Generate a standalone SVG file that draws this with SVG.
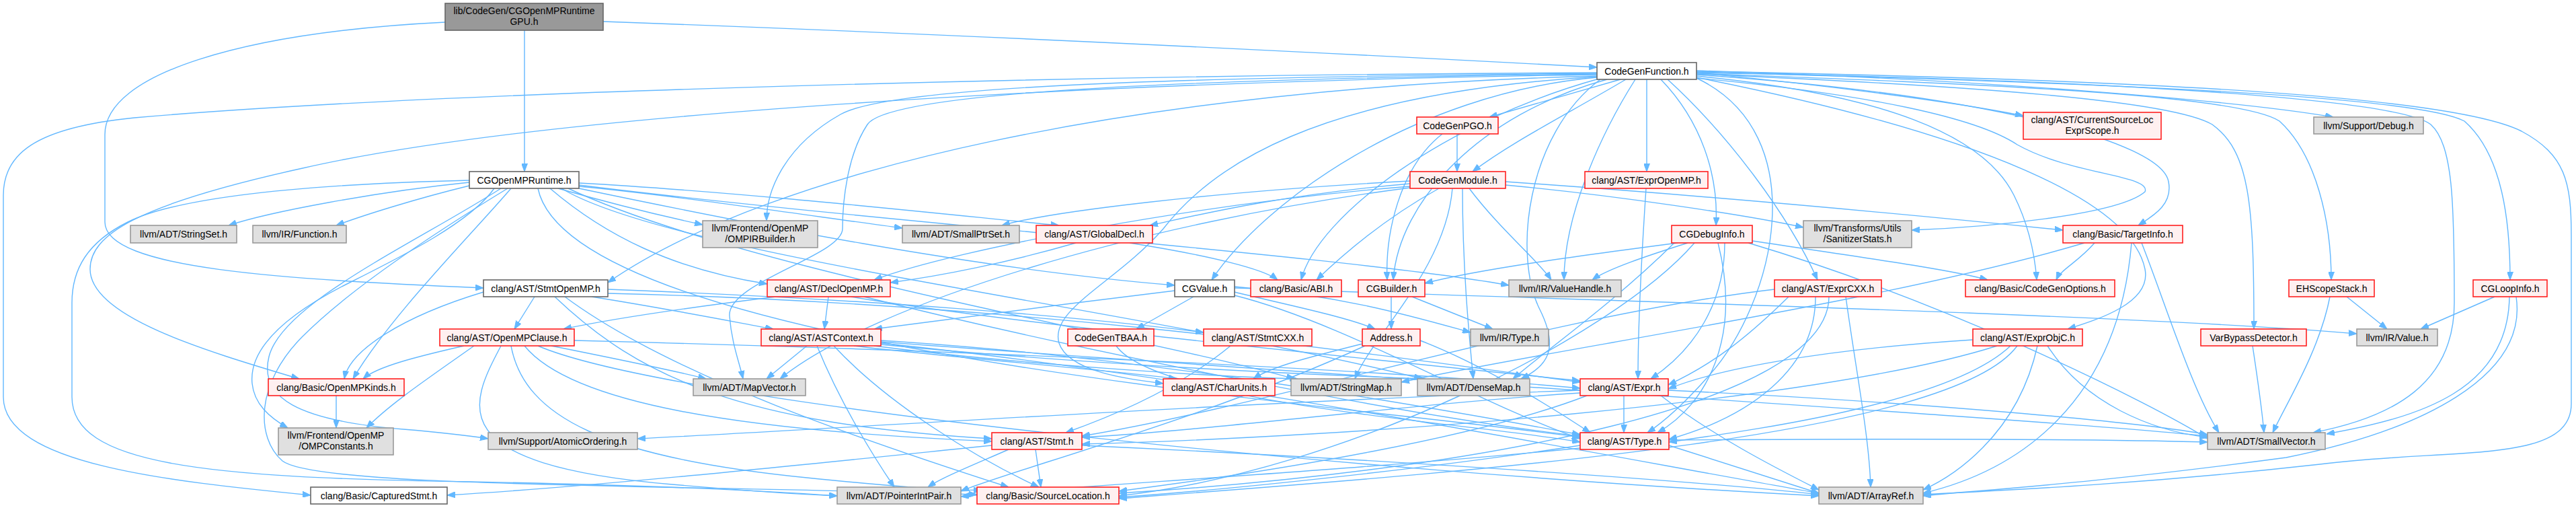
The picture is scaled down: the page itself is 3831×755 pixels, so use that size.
<svg xmlns="http://www.w3.org/2000/svg" width="3831" height="755" viewBox="0 0 3831 755">
<style>
.e{fill:none;stroke:#63b8ff;stroke-width:1.4}
.n rect{stroke-width:1.6}
.r rect{fill:#fff0f0;stroke:#ff2020}
.g rect{fill:#e0e0e0;stroke:#999999}
.w rect{fill:#ffffff;stroke:#666666}
.k rect{fill:#999999;stroke:#666666}
text{font-family:"Liberation Sans",Arial,sans-serif;font-size:14px;fill:#000;text-anchor:middle}
</style>
<defs>
<marker id="ah" viewBox="0 0 12 9" refX="12" refY="4.5" markerWidth="12" markerHeight="9" markerUnits="userSpaceOnUse" orient="auto"><path d="M0,0 L12,4.5 L0,9 z" fill="#63b8ff" stroke="#63b8ff"/></marker>
</defs>
<rect width="3831" height="755" fill="#ffffff"/>
<g id="edges" class="e" marker-end="url(#ah)">
<path class="e" marker-end="url(#ah)" d="M780,45 L780,255"/>
<path class="e" marker-end="url(#ah)" d="M897,32 C1400,50 2000,80 2375,100"/>
<path class="e" marker-end="url(#ah)" d="M662,33 C360,48 156,110 156,200 L156,330 C156,400 420,415 719,428"/>
<path class="e" marker-end="url(#ah)" d="M2375,108 C1500,112 600,140 200,175 C50,190 5,230 5,290 L5,590 C5,690 250,715 462,736"/>
<path class="e" marker-end="url(#ah)" d="M2375,111 C1600,122 800,170 450,250 C200,305 134,350 134,400 C134,470 300,520 445,563"/>
<path class="e" marker-end="url(#ah)" d="M2375,113 C1700,130 1150,250 904,420"/>
<path class="e" marker-end="url(#ah)" d="M2375,109 C1700,115 1320,130 1250,170 C1170,215 1140,280 1140,328"/>
<path class="e" marker-end="url(#ah)" d="M2375,110 C1700,118 1320,140 1290,185 C1260,230 1253,300 1253,340 C1253,380 1080,420 1085,470 C1088,510 1100,540 1105,563"/>
<path class="e" marker-end="url(#ah)" d="M2375,114 C1950,140 1800,250 1730,340 C1660,420 1560,460 1575,510 C1590,555 1690,565 1730,570"/>
<path class="e" marker-end="url(#ah)" d="M2410,118 L2215,174"/>
<path class="e" marker-end="url(#ah)" d="M2418,118 C2330,170 2250,210 2190,255"/>
<path class="e" marker-end="url(#ah)" d="M2449,118 L2449,255"/>
<path class="e" marker-end="url(#ah)" d="M2470,118 C2530,180 2556,260 2552,335"/>
<path class="e" marker-end="url(#ah)" d="M2375,115 C2100,140 1880,300 1802,416"/>
<path class="e" marker-end="url(#ah)" d="M2378,117 C2150,180 1960,320 1935,416"/>
<path class="e" marker-end="url(#ah)" d="M2140,280 C2050,330 1985,390 1958,416"/>
<path class="e" marker-end="url(#ah)" d="M2390,118 C2200,170 2080,300 2072,416"/>
<path class="e" marker-end="url(#ah)" d="M2432,118 C2380,200 2326,320 2326,416"/>
<path class="e" marker-end="url(#ah)" d="M2185,280 C2230,340 2290,390 2307,416"/>
<path class="e" marker-end="url(#ah)" d="M2510,361 C2450,380 2390,400 2368,416"/>
<path class="e" marker-end="url(#ah)" d="M2480,118 C2570,200 2660,320 2703,416"/>
<path class="e" marker-end="url(#ah)" d="M2523,113 C2800,140 2950,200 2995,290 C3020,340 3027,390 3029,416"/>
<path class="e" marker-end="url(#ah)" d="M2523,108 C2700,125 2900,150 3009,172"/>
<path class="e" marker-end="url(#ah)" d="M2523,105 C2950,118 3330,150 3470,174"/>
<path class="e" marker-end="url(#ah)" d="M2523,116 C2780,140 2940,175 3000,215 C3080,260 3200,260 3190,285 C3150,320 2950,338 2843,342"/>
<path class="e" marker-end="url(#ah)" d="M2239,275 C2400,290 2600,320 2682,338"/>
<path class="e" marker-end="url(#ah)" d="M2523,111 C2950,140 3215,210 3225,270 C3232,305 3200,322 3180,335"/>
<path class="e" marker-end="url(#ah)" d="M2239,270 C2600,295 2900,325 3068,342"/>
<path class="e" marker-end="url(#ah)" d="M2523,109 C2950,125 3330,140 3390,180 C3445,230 3467,330 3467,416"/>
<path class="e" marker-end="url(#ah)" d="M2523,107 C3200,125 3600,145 3665,180 C3722,230 3733,330 3733,416"/>
<path class="e" marker-end="url(#ah)" d="M2523,110 C2950,128 3230,150 3290,185 C3345,225 3352,300 3352,489"/>
<path class="e" marker-end="url(#ah)" d="M2523,108 C3200,120 3570,150 3615,185 C3648,215 3650,300 3650,450 C3650,570 3560,620 3440,643"/>
<path class="e" marker-end="url(#ah)" d="M2523,106 C3300,120 3660,150 3750,195 C3815,230 3824,270 3824,350 L3824,600 C3824,690 3650,665 3450,690 C3200,718 3000,728 2860,735"/>
<path class="e" marker-end="url(#ah)" d="M2523,116 C2700,200 2640,450 2540,560 C2500,605 2470,630 2450,643"/>
<path class="e" marker-end="url(#ah)" d="M2380,118 C2270,200 2250,380 2290,460 C2320,520 2300,545 2262,563"/>
<path class="e" marker-end="url(#ah)" d="M2523,115 C2950,200 3170,300 3190,400 C3200,450 3120,475 3075,489"/>
<path class="e" marker-end="url(#ah)" d="M2097,273 C1900,290 1780,320 1710,335"/>
<path class="e" marker-end="url(#ah)" d="M2097,269 C1800,285 1560,315 1490,335"/>
<path class="e" marker-end="url(#ah)" d="M698,271 C560,285 400,315 340,335"/>
<path class="e" marker-end="url(#ah)" d="M698,276 C620,295 540,320 500,335"/>
<path class="e" marker-end="url(#ah)" d="M830,280 C900,300 980,320 1045,334"/>
<path class="e" marker-end="url(#ah)" d="M861,277 C1000,290 1200,320 1342,339"/>
<path class="e" marker-end="url(#ah)" d="M861,272 C1100,285 1400,318 1575,335"/>
<path class="e" marker-end="url(#ah)" d="M818,280 C900,350 1000,400 1141,422"/>
<path class="e" marker-end="url(#ah)" d="M861,280 C1100,330 1450,400 1747,424"/>
<path class="e" marker-end="url(#ah)" d="M760,280 C700,350 580,470 525,563"/>
<path class="e" marker-end="url(#ah)" d="M735,280 C700,330 600,380 520,420 C420,470 370,520 375,570 C378,600 400,620 428,636"/>
<path class="e" marker-end="url(#ah)" d="M800,280 C850,520 2000,600 2350,650"/>
<path class="e" marker-end="url(#ah)" d="M755,280 C640,350 520,430 450,500 C380,570 380,650 420,685 C470,725 1000,720 1453,735"/>
<path class="e" marker-end="url(#ah)" d="M698,268 C400,275 250,300 190,330 C130,360 107,400 107,450 L107,590 C107,690 300,710 700,716 C1000,722 1150,730 1245,737"/>
<path class="e" marker-end="url(#ah)" d="M845,280 C1100,400 1700,500 1925,563"/>
<path class="e" marker-end="url(#ah)" d="M861,275 C1300,330 2000,380 2244,424"/>
<path class="e" marker-end="url(#ah)" d="M835,280 C1000,380 1700,460 2115,563"/>
<path class="e" marker-end="url(#ah)" d="M745,280 C620,360 420,450 400,530 C385,590 440,625 600,638 C660,643 700,648 726,652"/>
<path class="e" marker-end="url(#ah)" d="M2167,199 L2167,255"/>
<path class="e" marker-end="url(#ah)" d="M2145,199 C2080,250 2060,350 2063,416"/>
<path class="e" marker-end="url(#ah)" d="M2097,277 C1800,300 1420,370 1300,416"/>
<path class="e" marker-end="url(#ah)" d="M2175,280 C2175,400 2185,500 2191,563"/>
<path class="e" marker-end="url(#ah)" d="M2160,280 C2150,400 2040,500 2015,563"/>
<path class="e" marker-end="url(#ah)" d="M2097,279 C1700,330 1300,450 1160,563"/>
<path class="e" marker-end="url(#ah)" d="M2448,280 C2440,400 2436,500 2436,563"/>
<path class="e" marker-end="url(#ah)" d="M2495,361 C2350,380 2200,400 2119,421"/>
<path class="e" marker-end="url(#ah)" d="M2565,361 C2565,450 2520,520 2455,563"/>
<path class="e" marker-end="url(#ah)" d="M2555,361 C2590,500 2540,600 2465,643"/>
<path class="e" marker-end="url(#ah)" d="M2606,358 C2750,380 2900,400 2956,416"/>
<path class="e" marker-end="url(#ah)" d="M2520,361 C2400,500 2000,700 1664,737"/>
<path class="e" marker-end="url(#ah)" d="M2600,361 C2900,450 3200,600 3283,652"/>
<path class="e" marker-end="url(#ah)" d="M2490,361 C2400,450 2300,520 2250,563"/>
<path class="e" marker-end="url(#ah)" d="M3115,361 C3090,390 3065,400 3058,416"/>
<path class="e" marker-end="url(#ah)" d="M3185,361 C3220,450 3260,580 3300,643"/>
<path class="e" marker-end="url(#ah)" d="M3170,361 C3150,600 3000,700 2860,733"/>
<path class="e" marker-end="url(#ah)" d="M3100,361 C2800,450 2300,520 2084,568"/>
<path class="e" marker-end="url(#ah)" d="M3490,441 L3550,489"/>
<path class="e" marker-end="url(#ah)" d="M3465,441 C3450,520 3400,600 3380,643"/>
<path class="e" marker-end="url(#ah)" d="M3710,441 L3600,489"/>
<path class="e" marker-end="url(#ah)" d="M3732,441 C3730,580 3600,620 3460,645"/>
<path class="e" marker-end="url(#ah)" d="M3742,441 C3760,560 3600,640 3400,680 C3100,720 2950,728 2860,737"/>
<path class="e" marker-end="url(#ah)" d="M3350,514 C3360,580 3365,620 3367,643"/>
<path class="e" marker-end="url(#ah)" d="M795,441 L765,489"/>
<path class="e" marker-end="url(#ah)" d="M880,441 C1000,460 1100,480 1150,489"/>
<path class="e" marker-end="url(#ah)" d="M825,441 C950,560 1100,630 1475,652"/>
<path class="e" marker-end="url(#ah)" d="M904,436 C1500,450 2000,520 2350,568"/>
<path class="e" marker-end="url(#ah)" d="M904,430 C1300,445 1600,470 1790,494"/>
<path class="e" marker-end="url(#ah)" d="M719,434 C600,470 520,520 512,563"/>
<path class="e" marker-end="url(#ah)" d="M840,441 C1000,560 1300,660 1500,724"/>
<path class="e" marker-end="url(#ah)" d="M1154,441 C1000,460 900,476 838,489"/>
<path class="e" marker-end="url(#ah)" d="M1232,441 L1226,489"/>
<path class="e" marker-end="url(#ah)" d="M1265,441 C1500,480 2000,530 2350,566"/>
<path class="e" marker-end="url(#ah)" d="M1285,441 C1600,520 2100,620 2350,648"/>
<path class="e" marker-end="url(#ah)" d="M1600,361 C1500,390 1400,410 1324,420"/>
<path class="e" marker-end="url(#ah)" d="M1680,361 C1800,380 1880,400 1900,416"/>
<path class="e" marker-end="url(#ah)" d="M1775,441 L1690,489"/>
<path class="e" marker-end="url(#ah)" d="M1836,434 C1900,450 2000,470 2045,489"/>
<path class="e" marker-end="url(#ah)" d="M1747,432 C1600,450 1400,475 1300,489"/>
<path class="e" marker-end="url(#ah)" d="M1836,439 C2000,480 2200,600 2350,652"/>
<path class="e" marker-end="url(#ah)" d="M1836,426 C2000,440 2100,470 2187,494"/>
<path class="e" marker-end="url(#ah)" d="M1836,428 C2500,450 3200,470 3505,496"/>
<path class="e" marker-end="url(#ah)" d="M2069,441 L2069,489"/>
<path class="e" marker-end="url(#ah)" d="M2100,441 L2220,489"/>
<path class="e" marker-end="url(#ah)" d="M2660,441 C2600,500 2550,540 2481,572"/>
<path class="e" marker-end="url(#ah)" d="M2700,441 C2700,550 2600,620 2482,653"/>
<path class="e" marker-end="url(#ah)" d="M2639,430 C2300,470 1900,600 1609,648"/>
<path class="e" marker-end="url(#ah)" d="M2720,441 C2720,600 2200,700 1664,733"/>
<path class="e" marker-end="url(#ah)" d="M2745,441 C2760,550 2780,650 2782,724"/>
<path class="e" marker-end="url(#ah)" d="M690,514 C620,530 560,545 540,563"/>
<path class="e" marker-end="url(#ah)" d="M705,514 C640,560 580,600 545,636"/>
<path class="e" marker-end="url(#ah)" d="M820,514 C900,530 1000,550 1050,563"/>
<path class="e" marker-end="url(#ah)" d="M745,514 C700,600 650,690 1000,720 C1150,733 1200,735 1245,737"/>
<path class="e" marker-end="url(#ah)" d="M760,514 C780,620 900,680 1200,710 C1350,725 1420,730 1460,728"/>
<path class="e" marker-end="url(#ah)" d="M854,506 C1400,520 2000,545 2350,577"/>
<path class="e" marker-end="url(#ah)" d="M780,514 C850,600 1100,640 1475,656"/>
<path class="e" marker-end="url(#ah)" d="M800,514 C1000,600 2000,700 2705,737"/>
<path class="e" marker-end="url(#ah)" d="M1200,514 L1140,563"/>
<path class="e" marker-end="url(#ah)" d="M1270,514 C1400,530 1650,550 1750,563"/>
<path class="e" marker-end="url(#ah)" d="M1310,506 C1700,530 2100,600 2350,646"/>
<path class="e" marker-end="url(#ah)" d="M1215,514 C1250,600 1300,680 1330,724"/>
<path class="e" marker-end="url(#ah)" d="M1240,514 C1320,600 1450,680 1545,724"/>
<path class="e" marker-end="url(#ah)" d="M1310,510 C1800,560 2400,680 2705,733"/>
<path class="e" marker-end="url(#ah)" d="M1300,514 C1500,540 1800,560 1930,563"/>
<path class="e" marker-end="url(#ah)" d="M1310,512 C1600,540 1900,555 2120,563"/>
<path class="e" marker-end="url(#ah)" d="M1310,508 C2000,560 3000,620 3283,648"/>
<path class="e" marker-end="url(#ah)" d="M1660,514 C1720,600 2200,630 2350,657"/>
<path class="e" marker-end="url(#ah)" d="M1830,514 C1750,580 1650,620 1585,643"/>
<path class="e" marker-end="url(#ah)" d="M2030,510 C1950,530 1890,545 1864,563"/>
<path class="e" marker-end="url(#ah)" d="M2112,506 C2200,540 2300,600 2365,643"/>
<path class="e" marker-end="url(#ah)" d="M2030,514 C1800,620 1500,700 1429,730"/>
<path class="e" marker-end="url(#ah)" d="M2934,505 C2700,520 2550,550 2481,578"/>
<path class="e" marker-end="url(#ah)" d="M2990,514 C2900,600 2600,640 2482,657"/>
<path class="e" marker-end="url(#ah)" d="M2970,514 C2700,600 2000,650 1609,660"/>
<path class="e" marker-end="url(#ah)" d="M3000,514 C2900,650 2200,700 1664,741"/>
<path class="e" marker-end="url(#ah)" d="M3030,514 C3000,650 2900,710 2860,728"/>
<path class="e" marker-end="url(#ah)" d="M3045,514 C3100,600 3200,640 3283,650"/>
<path class="e" marker-end="url(#ah)" d="M500,588 L500,636"/>
<path class="e" marker-end="url(#ah)" d="M2415,588 L2415,643"/>
<path class="e" marker-end="url(#ah)" d="M2350,580 C1800,600 1200,640 948,652"/>
<path class="e" marker-end="url(#ah)" d="M2350,584 C2100,600 1800,640 1609,650"/>
<path class="e" marker-end="url(#ah)" d="M2360,588 C2200,650 1900,700 1664,730"/>
<path class="e" marker-end="url(#ah)" d="M2470,588 C2550,650 2650,700 2705,728"/>
<path class="e" marker-end="url(#ah)" d="M2481,580 C2900,600 3200,630 3283,646"/>
<path class="e" marker-end="url(#ah)" d="M1540,668 L1548,724"/>
<path class="e" marker-end="url(#ah)" d="M1500,668 C1450,690 1400,710 1380,724"/>
<path class="e" marker-end="url(#ah)" d="M1609,662 C2000,680 2500,712 2705,735"/>
<path class="e" marker-end="url(#ah)" d="M1475,662 C1200,690 900,722 665,736"/>
<path class="e" marker-end="url(#ah)" d="M2350,662 C2100,700 1800,730 1664,739"/>
<path class="e" marker-end="url(#ah)" d="M2350,666 C2000,700 1600,722 1429,738"/>
<path class="e" marker-end="url(#ah)" d="M2482,662 C2600,700 2680,725 2705,733"/>
<path class="e" marker-end="url(#ah)" d="M2482,654 C2800,652 3100,652 3283,657"/>
</g>
<g id="n0" class="n k"><rect x="662" y="5" width="235" height="40"/><text x="779.5" y="21">lib/CodeGen/CGOpenMPRuntime</text><text x="779.5" y="37">GPU.h</text></g>
<g id="n1" class="n w"><rect x="2375" y="93" width="148" height="25"/><text x="2449" y="110.5">CodeGenFunction.h</text></g>
<g id="n2" class="n w"><rect x="698" y="255" width="163" height="25"/><text x="779.5" y="272.5">CGOpenMPRuntime.h</text></g>
<g id="n3" class="n r"><rect x="2107" y="174" width="121" height="25"/><text x="2167.5" y="191.5">CodeGenPGO.h</text></g>
<g id="n4" class="n r"><rect x="2097" y="255" width="142" height="25"/><text x="2168" y="272.5">CodeGenModule.h</text></g>
<g id="n5" class="n r"><rect x="2357" y="255" width="183" height="25"/><text x="2448.5" y="272.5">clang/AST/ExprOpenMP.h</text></g>
<g id="n6" class="n r"><rect x="3009" y="167" width="205" height="40"/><text x="3111.5" y="183">clang/AST/CurrentSourceLoc</text><text x="3111.5" y="199">ExprScope.h</text></g>
<g id="n7" class="n g"><rect x="3441" y="174" width="163" height="25"/><text x="3522.5" y="191.5">llvm/Support/Debug.h</text></g>
<g id="n8" class="n g"><rect x="194" y="335" width="158" height="26"/><text x="273" y="353">llvm/ADT/StringSet.h</text></g>
<g id="n9" class="n g"><rect x="376" y="335" width="139" height="26"/><text x="445.5" y="353">llvm/IR/Function.h</text></g>
<g id="n10" class="n g"><rect x="1045" y="328" width="171" height="40"/><text x="1130.5" y="344">llvm/Frontend/OpenMP</text><text x="1130.5" y="360">/OMPIRBuilder.h</text></g>
<g id="n11" class="n g"><rect x="1342" y="335" width="174" height="26"/><text x="1429" y="353">llvm/ADT/SmallPtrSet.h</text></g>
<g id="n12" class="n r"><rect x="1541" y="335" width="173" height="26"/><text x="1627.5" y="353">clang/AST/GlobalDecl.h</text></g>
<g id="n13" class="n g"><rect x="2682" y="328" width="161" height="40"/><text x="2762.5" y="344">llvm/Transforms/Utils</text><text x="2762.5" y="360">/SanitizerStats.h</text></g>
<g id="n14" class="n r"><rect x="2486" y="335" width="120" height="26"/><text x="2546" y="353">CGDebugInfo.h</text></g>
<g id="n15" class="n r"><rect x="3068" y="335" width="178" height="26"/><text x="3157" y="353">clang/Basic/TargetInfo.h</text></g>
<g id="n16" class="n r"><rect x="3404" y="416" width="127" height="25"/><text x="3467.5" y="433.5">EHScopeStack.h</text></g>
<g id="n17" class="n r"><rect x="3678" y="416" width="110" height="25"/><text x="3733" y="433.5">CGLoopInfo.h</text></g>
<g id="n18" class="n w"><rect x="719" y="416" width="185" height="25"/><text x="811.5" y="433.5">clang/AST/StmtOpenMP.h</text></g>
<g id="n19" class="n r"><rect x="1141" y="416" width="183" height="25"/><text x="1232.5" y="433.5">clang/AST/DeclOpenMP.h</text></g>
<g id="n20" class="n w"><rect x="1747" y="416" width="89" height="25"/><text x="1791.5" y="433.5">CGValue.h</text></g>
<g id="n21" class="n r"><rect x="1860" y="416" width="135" height="25"/><text x="1927.5" y="433.5">clang/Basic/ABI.h</text></g>
<g id="n22" class="n r"><rect x="2020" y="416" width="99" height="25"/><text x="2069.5" y="433.5">CGBuilder.h</text></g>
<g id="n23" class="n g"><rect x="2244" y="416" width="167" height="25"/><text x="2327.5" y="433.5">llvm/IR/ValueHandle.h</text></g>
<g id="n24" class="n r"><rect x="2639" y="416" width="159" height="25"/><text x="2718.5" y="433.5">clang/AST/ExprCXX.h</text></g>
<g id="n25" class="n r"><rect x="2923" y="416" width="222" height="25"/><text x="3034" y="433.5">clang/Basic/CodeGenOptions.h</text></g>
<g id="n26" class="n r"><rect x="654" y="489" width="200" height="25"/><text x="754" y="506.5">clang/AST/OpenMPClause.h</text></g>
<g id="n27" class="n r"><rect x="1132" y="489" width="178" height="25"/><text x="1221" y="506.5">clang/AST/ASTContext.h</text></g>
<g id="n28" class="n r"><rect x="1588" y="489" width="128" height="25"/><text x="1652" y="506.5">CodeGenTBAA.h</text></g>
<g id="n29" class="n r"><rect x="1790" y="489" width="161" height="25"/><text x="1870.5" y="506.5">clang/AST/StmtCXX.h</text></g>
<g id="n30" class="n r"><rect x="2026" y="489" width="86" height="25"/><text x="2069" y="506.5">Address.h</text></g>
<g id="n31" class="n g"><rect x="2187" y="489" width="116" height="25"/><text x="2245" y="506.5">llvm/IR/Type.h</text></g>
<g id="n32" class="n r"><rect x="2934" y="489" width="163" height="25"/><text x="3015.5" y="506.5">clang/AST/ExprObjC.h</text></g>
<g id="n33" class="n r"><rect x="3273" y="489" width="157" height="25"/><text x="3351.5" y="506.5">VarBypassDetector.h</text></g>
<g id="n34" class="n g"><rect x="3505" y="489" width="120" height="25"/><text x="3565" y="506.5">llvm/IR/Value.h</text></g>
<g id="n35" class="n r"><rect x="399" y="563" width="202" height="25"/><text x="500" y="580.5">clang/Basic/OpenMPKinds.h</text></g>
<g id="n36" class="n g"><rect x="1031" y="563" width="167" height="25"/><text x="1114.5" y="580.5">llvm/ADT/MapVector.h</text></g>
<g id="n37" class="n r"><rect x="1730" y="563" width="166" height="25"/><text x="1813" y="580.5">clang/AST/CharUnits.h</text></g>
<g id="n38" class="n g"><rect x="1920" y="563" width="164" height="25"/><text x="2002" y="580.5">llvm/ADT/StringMap.h</text></g>
<g id="n39" class="n g"><rect x="2108" y="563" width="167" height="25"/><text x="2191.5" y="580.5">llvm/ADT/DenseMap.h</text></g>
<g id="n40" class="n r"><rect x="2350" y="563" width="131" height="25"/><text x="2415.5" y="580.5">clang/AST/Expr.h</text></g>
<g id="n41" class="n g"><rect x="414" y="636" width="171" height="40"/><text x="499.5" y="652">llvm/Frontend/OpenMP</text><text x="499.5" y="668">/OMPConstants.h</text></g>
<g id="n42" class="n g"><rect x="726" y="643" width="222" height="25"/><text x="837" y="660.5">llvm/Support/AtomicOrdering.h</text></g>
<g id="n43" class="n r"><rect x="1475" y="643" width="134" height="25"/><text x="1542" y="660.5">clang/AST/Stmt.h</text></g>
<g id="n44" class="n r"><rect x="2350" y="643" width="132" height="25"/><text x="2416" y="660.5">clang/AST/Type.h</text></g>
<g id="n45" class="n g"><rect x="3283" y="643" width="175" height="25"/><text x="3370.5" y="660.5">llvm/ADT/SmallVector.h</text></g>
<g id="n46" class="n w"><rect x="462" y="724" width="203" height="25"/><text x="563.5" y="741.5">clang/Basic/CapturedStmt.h</text></g>
<g id="n47" class="n g"><rect x="1245" y="724" width="184" height="25"/><text x="1337" y="741.5">llvm/ADT/PointerIntPair.h</text></g>
<g id="n48" class="n r"><rect x="1453" y="724" width="211" height="25"/><text x="1558.5" y="741.5">clang/Basic/SourceLocation.h</text></g>
<g id="n49" class="n g"><rect x="2705" y="724" width="155" height="25"/><text x="2782.5" y="741.5">llvm/ADT/ArrayRef.h</text></g>
</svg>
